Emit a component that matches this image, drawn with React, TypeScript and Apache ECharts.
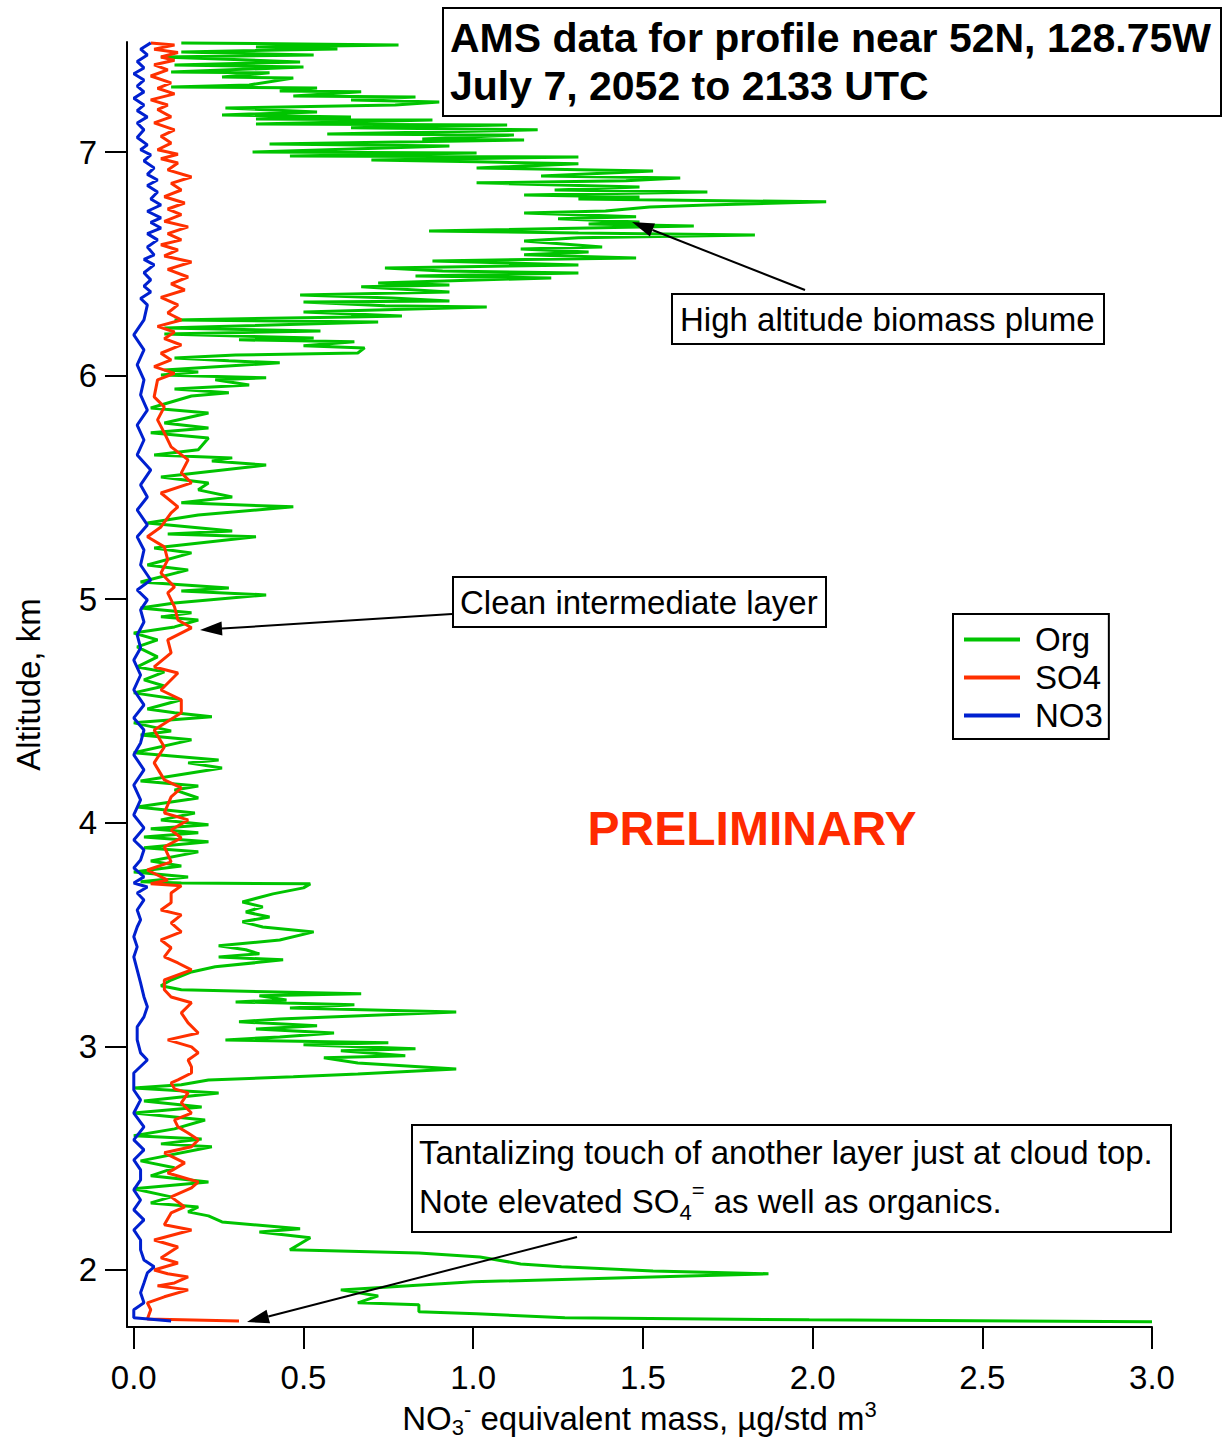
import React, { useEffect, useRef } from "react";
import * as echarts from "echarts";

// [mass (µg/std m3), altitude (km)] in flight order, bottom to top
const ORG_POINTS: [number, number][] = [
  [3.00,1.768],[1.99,1.777],[1.27,1.786],[1.01,1.804],[0.84,1.813],[0.84,1.844],[0.66,1.853],[0.72,1.884],[0.61,1.911],[1.00,1.947],
  [1.66,1.974],[1.87,1.983],[1.53,1.996],[1.26,2.014],[1.14,2.027],[1.02,2.058],[0.84,2.076],[0.46,2.090],[0.52,2.144],[0.37,2.170],
  [0.49,2.184],[0.26,2.215],[0.22,2.242],[0.16,2.260],[0.19,2.282],[0.05,2.300],[0.11,2.327],[0.00,2.363],[0.22,2.394],[0.05,2.421],
  [0.12,2.457],[0.02,2.488],[0.23,2.551],[0.08,2.564],[0.20,2.586],[0.00,2.600],[0.12,2.631],[0.21,2.671],[0.00,2.702],[0.20,2.729],
  [0.03,2.756],[0.25,2.792],[0.00,2.814],[0.14,2.828],[0.22,2.850],[0.47,2.864],[0.66,2.877],[0.95,2.899],[0.66,2.926],[0.56,2.949],
  [0.80,2.958],[0.61,2.980],[0.83,2.989],[0.50,3.007],[0.75,3.016],[0.27,3.029],[0.43,3.042],[0.59,3.060],[0.36,3.078],[0.54,3.092],
  [0.31,3.110],[0.43,3.123],[0.65,3.136],[0.95,3.154],[0.46,3.172],[0.65,3.186],[0.30,3.199],[0.45,3.208],[0.37,3.226],[0.67,3.235],
  [0.14,3.253],[0.08,3.271],[0.11,3.297],[0.17,3.333],[0.24,3.356],[0.44,3.387],[0.25,3.400],[0.37,3.414],[0.33,3.432],[0.25,3.450],
  [0.43,3.476],[0.53,3.512],[0.38,3.534],[0.32,3.557],[0.40,3.579],[0.33,3.601],[0.38,3.624],[0.32,3.646],[0.41,3.682],[0.50,3.709],
  [0.52,3.727],[0.14,3.731],[0.02,3.736],[0.16,3.758],[0.00,3.780],[0.14,3.807],[0.05,3.829],[0.19,3.870],[0.03,3.888],[0.22,3.915],
  [0.03,3.937],[0.19,3.955],[0.05,3.973],[0.22,3.991],[0.08,4.013],[0.18,4.044],[0.01,4.071],[0.19,4.111],[0.12,4.147],[0.19,4.165],
  [0.02,4.187],[0.26,4.245],[0.16,4.268],[0.25,4.281],[0.00,4.313],[0.17,4.371],[0.02,4.393],[0.11,4.411],[0.00,4.447],[0.23,4.474],
  [0.12,4.492],[0.04,4.509],[0.14,4.550],[0.00,4.581],[0.09,4.612],[0.03,4.639],[0.09,4.675],[0.01,4.697],[0.07,4.742],[0.01,4.787],
  [0.07,4.818],[0.00,4.849],[0.12,4.876],[0.19,4.907],[0.08,4.921],[0.17,4.939],[0.02,4.961],[0.12,4.983],[0.39,5.019],[0.14,5.037],
  [0.28,5.050],[0.02,5.077],[0.16,5.131],[0.04,5.153],[0.17,5.207],[0.06,5.229],[0.36,5.279],[0.10,5.292],[0.29,5.305],[0.04,5.341],
  [0.19,5.377],[0.47,5.413],[0.14,5.431],[0.29,5.457],[0.19,5.489],[0.22,5.520],[0.08,5.547],[0.39,5.600],[0.23,5.618],[0.29,5.632],
  [0.06,5.645],[0.19,5.668],[0.22,5.721],[0.05,5.744],[0.22,5.766],[0.09,5.788],[0.22,5.833],[0.05,5.855],[0.17,5.909],[0.28,5.923],
  [0.12,5.940],[0.34,5.958],[0.24,5.981],[0.39,5.990],[0.30,5.994],[0.08,6.003],[0.19,6.016],[0.09,6.025],[0.43,6.057],[0.28,6.066],
  [0.12,6.079],[0.30,6.092],[0.66,6.101],[0.68,6.124],[0.50,6.133],[0.65,6.151],[0.31,6.160],[0.53,6.168],[0.09,6.186],[0.55,6.200],
  [0.09,6.213],[0.72,6.240],[0.12,6.249],[0.64,6.262],[0.79,6.267],[0.50,6.285],[1.04,6.307],[0.74,6.312],[0.50,6.329],[0.93,6.334],
  [0.76,6.347],[0.49,6.361],[0.93,6.374],[0.67,6.397],[0.93,6.405],[0.72,6.414],[1.23,6.437],[0.83,6.446],[1.31,6.459],[0.91,6.468],
  [0.74,6.481],[1.31,6.495],[0.88,6.513],[1.48,6.526],[1.15,6.540],[1.34,6.553],[1.14,6.566],[1.38,6.575],[1.15,6.602],[1.31,6.616],
  [1.83,6.629],[1.31,6.638],[0.87,6.647],[1.65,6.669],[1.34,6.678],[1.49,6.687],[1.25,6.701],[1.48,6.710],[1.15,6.727],[1.39,6.736],
  [1.52,6.754],[1.69,6.763],[2.04,6.777],[1.31,6.790],[1.49,6.799],[1.15,6.808],[1.69,6.821],[1.24,6.830],[1.49,6.844],[1.01,6.862],
  [1.45,6.871],[1.61,6.884],[1.20,6.893],[1.53,6.915],[1.01,6.929],[1.31,6.947],[1.01,6.956],[0.70,6.964],[1.31,6.978],[0.46,6.982],
  [1.01,6.996],[0.35,7.000],[0.93,7.027],[0.40,7.036],[1.15,7.054],[0.85,7.058],[1.12,7.076],[0.57,7.081],[1.19,7.099],[0.64,7.108],
  [1.10,7.121],[0.36,7.125],[0.88,7.143],[0.36,7.148],[0.64,7.157],[0.26,7.166],[0.54,7.179],[0.27,7.197],[0.77,7.210],[0.90,7.224],
  [0.64,7.233],[0.83,7.246],[0.47,7.251],[0.67,7.269],[0.43,7.273],[0.54,7.286],[0.11,7.291],[0.34,7.300],[0.47,7.331],[0.26,7.336],
  [0.40,7.354],[0.11,7.358],[0.50,7.380],[0.12,7.389],[0.49,7.403],[0.08,7.425],[0.53,7.434],[0.14,7.447],[0.60,7.461],[0.36,7.470],
  [0.78,7.479],[0.14,7.488]
];

const SO4_POINTS: [number, number][] = [
  [0.31,1.772],[0.04,1.781],[0.05,1.822],[0.04,1.853],[0.09,1.880],[0.16,1.911],[0.07,1.929],[0.12,1.942],[0.16,1.969],[0.10,1.983],
  [0.06,2.000],[0.13,2.031],[0.08,2.054],[0.13,2.103],[0.06,2.134],[0.17,2.179],[0.09,2.202],[0.11,2.255],[0.15,2.282],[0.11,2.327],
  [0.17,2.367],[0.19,2.394],[0.10,2.434],[0.15,2.479],[0.09,2.524],[0.17,2.551],[0.19,2.582],[0.16,2.613],[0.13,2.640],[0.12,2.671],
  [0.17,2.702],[0.14,2.747],[0.16,2.792],[0.12,2.810],[0.11,2.837],[0.13,2.850],[0.17,2.881],[0.17,2.908],[0.16,2.939],[0.19,2.971],
  [0.17,2.998],[0.10,3.029],[0.19,3.060],[0.16,3.105],[0.14,3.150],[0.17,3.195],[0.11,3.221],[0.09,3.253],[0.09,3.297],[0.17,3.342],
  [0.13,3.373],[0.09,3.400],[0.11,3.441],[0.08,3.476],[0.14,3.512],[0.11,3.552],[0.14,3.588],[0.08,3.610],[0.11,3.642],[0.11,3.686],
  [0.14,3.718],[0.05,3.727],[0.10,3.744],[0.04,3.789],[0.11,3.825],[0.09,3.892],[0.14,3.932],[0.11,3.968],[0.16,4.013],[0.09,4.044],
  [0.11,4.116],[0.14,4.156],[0.09,4.192],[0.06,4.268],[0.09,4.339],[0.06,4.415],[0.14,4.492],[0.14,4.550],[0.08,4.594],[0.13,4.670],
  [0.06,4.697],[0.11,4.760],[0.10,4.818],[0.17,4.872],[0.13,4.907],[0.12,4.966],[0.10,5.028],[0.12,5.055],[0.08,5.117],[0.10,5.176],
  [0.09,5.234],[0.04,5.279],[0.08,5.323],[0.11,5.386],[0.13,5.413],[0.08,5.475],[0.17,5.520],[0.14,5.565],[0.16,5.623],[0.11,5.681],
  [0.09,5.744],[0.07,5.802],[0.09,5.860],[0.06,5.905],[0.07,5.981],[0.12,6.010],[0.06,6.040],[0.11,6.070],[0.08,6.100],[0.14,6.137],
  [0.09,6.165],[0.12,6.195],[0.07,6.220],[0.14,6.249],[0.10,6.280],[0.13,6.316],[0.08,6.350],[0.15,6.383],[0.11,6.410],[0.16,6.441],
  [0.10,6.475],[0.17,6.508],[0.09,6.535],[0.13,6.562],[0.08,6.585],[0.14,6.607],[0.10,6.635],[0.16,6.665],[0.09,6.690],[0.14,6.720],
  [0.10,6.745],[0.15,6.772],[0.09,6.800],[0.14,6.830],[0.11,6.860],[0.17,6.888],[0.10,6.920],[0.13,6.951],[0.08,6.970],[0.13,6.990],
  [0.07,7.010],[0.11,7.040],[0.08,7.070],[0.12,7.099],[0.06,7.130],[0.11,7.157],[0.07,7.190],[0.10,7.210],[0.05,7.233],[0.12,7.260],
  [0.07,7.285],[0.11,7.309],[0.05,7.340],[0.10,7.367],[0.06,7.390],[0.12,7.410],[0.08,7.425],[0.13,7.445],[0.06,7.460],[0.12,7.479],
  [0.05,7.488]
];

const NO3_POINTS: [number, number][] = [
  [0.11,1.772],[0.00,1.786],[0.00,1.822],[0.03,1.853],[0.02,1.898],[0.03,1.942],[0.04,1.987],[0.06,2.014],[0.03,2.045],[0.02,2.090],
  [0.02,2.134],[0.00,2.179],[0.03,2.224],[0.00,2.269],[0.02,2.313],[0.00,2.358],[0.02,2.403],[0.02,2.448],[0.00,2.492],[0.03,2.537],
  [0.00,2.582],[0.03,2.640],[0.00,2.702],[0.02,2.761],[0.00,2.805],[0.00,2.837],[0.00,2.881],[0.04,2.939],[0.02,2.971],[0.01,3.029],
  [0.01,3.087],[0.03,3.132],[0.04,3.177],[0.03,3.221],[0.02,3.284],[0.01,3.342],[0.00,3.400],[0.01,3.445],[0.00,3.490],[0.01,3.534],
  [0.02,3.566],[0.01,3.610],[0.03,3.655],[0.01,3.686],[0.04,3.713],[0.00,3.731],[0.03,3.758],[0.00,3.798],[0.02,3.834],[0.03,3.879],
  [0.00,3.923],[0.03,3.977],[0.00,4.035],[0.02,4.102],[0.00,4.169],[0.03,4.237],[0.00,4.304],[0.02,4.357],[0.03,4.415],[0.00,4.469],
  [0.03,4.527],[0.00,4.594],[0.02,4.661],[0.00,4.728],[0.02,4.782],[0.01,4.840],[0.03,4.898],[0.02,4.952],[0.04,4.997],[0.01,5.041],
  [0.05,5.086],[0.02,5.153],[0.03,5.220],[0.01,5.279],[0.04,5.332],[0.01,5.399],[0.04,5.457],[0.02,5.511],[0.05,5.578],[0.01,5.645],
  [0.03,5.712],[0.01,5.779],[0.04,5.846],[0.02,5.914],[0.03,5.981],[0.01,6.048],[0.03,6.115],[0.00,6.182],[0.03,6.249],[0.04,6.316],
  [0.02,6.345],[0.05,6.374],[0.03,6.400],[0.05,6.428],[0.03,6.460],[0.06,6.495],[0.03,6.520],[0.06,6.540],[0.04,6.575],[0.07,6.607],
  [0.04,6.635],[0.08,6.660],[0.05,6.685],[0.08,6.705],[0.04,6.735],[0.08,6.763],[0.05,6.790],[0.07,6.821],[0.04,6.850],[0.07,6.875],
  [0.04,6.900],[0.06,6.929],[0.03,6.960],[0.05,6.987],[0.02,7.010],[0.04,7.032],[0.01,7.065],[0.03,7.099],[0.01,7.130],[0.04,7.157],
  [0.01,7.185],[0.03,7.210],[0.00,7.240],[0.03,7.269],[0.01,7.295],[0.03,7.322],[0.00,7.350],[0.03,7.376],[0.01,7.405],[0.04,7.434],
  [0.02,7.460],[0.05,7.488]
];

const SERIES_NAMES = ["Org", "SO4", "NO3"];
const SERIES_COLORS = ["#00c400", "#ff3000", "#0020d0"];
const X_TICKS = [0, 0.5, 1.0, 1.5, 2.0, 2.5, 3.0];
const Y_TICKS = [2, 3, 4, 5, 6, 7];

const FONT = "'Liberation Sans', Arial, sans-serif";

function arrow(x1: number, y1: number, x2: number, y2: number) {
  const dx = x2 - x1;
  const dy = y2 - y1;
  const L = Math.hypot(dx, dy);
  const ux = dx / L;
  const uy = dy / L;
  const hl = 22;
  const hw = 7;
  const bx = x2 - ux * hl;
  const by = y2 - uy * hl;
  return [
    { type: "line", z: 100, shape: { x1, y1, x2: bx, y2: by }, style: { stroke: "#000", lineWidth: 2 } },
    {
      type: "polygon",
      z: 100,
      shape: { points: [[x2, y2], [bx - uy * hw, by + ux * hw], [bx + uy * hw, by - ux * hw]] },
      style: { fill: "#000" },
    },
  ];
}

function boxRect(x: number, y: number, w: number, h: number) {
  return { type: "rect", z: 50, shape: { x, y, width: w, height: h }, style: { fill: "#fff", stroke: "#000", lineWidth: 2 } };
}

function label(text: string, x: number, y: number, extra: any = {}) {
  return {
    type: "text",
    z: 60,
    x,
    y,
    style: { text, fontSize: 33, fontFamily: FONT, fill: "#000", textAlign: "left", textVerticalAlign: "middle", ...extra },
  };
}

export default function App() {
  const ref = useRef<HTMLDivElement>(null);
  useEffect(() => {
    document.body.style.margin = "0";
    const chart = echarts.init(ref.current!, null, { renderer: "svg" });
    const allPoints = [ORG_POINTS, SO4_POINTS, NO3_POINTS];
    const option: any = {
      animation: false,
      backgroundColor: "#fff",
      grid: { left: 127, right: 72, top: 42, bottom: 114, containLabel: false, outerBoundsMode: "none" },
      xAxis: {
        type: "value",
        min: -0.02,
        max: 3.0,
        axisLine: { show: true, onZero: false, lineStyle: { color: "#000", width: 2 } },
        axisTick: { show: true, length: 22, lineStyle: { color: "#000", width: 2 }, customValues: X_TICKS },
        axisLabel: {
          show: true,
          margin: 34,
          fontSize: 33,
          fontFamily: FONT,
          color: "#000",
          customValues: X_TICKS,
          formatter: (v: number) => v.toFixed(1),
        },
        splitLine: { show: false },
        name: "NO{sub|3}{sup|-} equivalent mass, µg/std m{sup|3}",
        nameLocation: "middle",
        nameGap: 67,
        nameTextStyle: {
          fontSize: 33,
          fontFamily: FONT,
          color: "#000",
          lineHeight: 40,
          rich: {
            sub: { fontSize: 22, fontFamily: FONT, color: "#000", lineHeight: 22, verticalAlign: "bottom" },
            sup: { fontSize: 22, fontFamily: FONT, color: "#000", lineHeight: 22, verticalAlign: "top" },
          },
        },
      },
      yAxis: {
        type: "value",
        min: 1.745,
        max: 7.492,
        axisLine: { show: true, onZero: false, lineStyle: { color: "#000", width: 2 } },
        axisTick: { show: true, length: 22, lineStyle: { color: "#000", width: 2 }, customValues: Y_TICKS },
        axisLabel: {
          show: true,
          margin: 30,
          fontSize: 33,
          fontFamily: FONT,
          color: "#000",
          customValues: Y_TICKS,
          formatter: (v: number) => String(Math.round(v)),
        },
        splitLine: { show: false },
        name: "Altitude, km",
        nameLocation: "middle",
        nameGap: 82,
        nameTextStyle: { fontSize: 33, fontFamily: FONT, color: "#000" },
      },
      legend: {
        show: true,
        orient: "vertical",
        left: 953,
        top: 614,
        icon: "rect",
        itemWidth: 56,
        itemHeight: 4,
        itemGap: 5,
        padding: [9, 6, 7, 11],
        borderColor: "#000",
        borderWidth: 2,
        backgroundColor: "#fff",
        selectedMode: false,
        data: SERIES_NAMES,
        textStyle: { fontSize: 33, fontFamily: FONT, color: "#000", padding: [0, 0, 0, 10] },
      },
      series: SERIES_NAMES.map((name, i) => ({
        name,
        type: "line",
        data: allPoints[i],
        showSymbol: false,
        symbol: "none",
        color: SERIES_COLORS[i],
        lineStyle: { color: SERIES_COLORS[i], width: 3 },
        z: 2 + i,
        clip: true,
      })),
      graphic: [
        boxRect(443, 8, 778, 108),
        label("AMS data for profile near 52N, 128.75W", 450, 38, { fontSize: 41, fontWeight: "bold" }),
        label("July 7, 2052 to 2133 UTC", 450, 86, { fontSize: 41, fontWeight: "bold" }),
        boxRect(672, 294, 432, 50),
        label("High altitude biomass plume", 680, 319),
        ...arrow(805, 290, 632, 222),
        boxRect(453, 577, 373, 50),
        label("Clean intermediate layer", 460, 602),
        ...arrow(452, 614, 200, 630),
        {
          type: "text",
          z: 60,
          x: 752,
          y: 828,
          style: {
            text: "PRELIMINARY",
            fontSize: 48,
            fontWeight: "bold",
            fontFamily: FONT,
            fill: "#ff2a00",
            textAlign: "center",
            textVerticalAlign: "middle",
          },
        },
        boxRect(412, 1125, 759, 107),
        label("Tantalizing touch of another layer just at cloud top.", 419, 1152),
        label("Note elevated SO{sub|4}{sup|=} as well as organics.", 419, 1201, {
          lineHeight: 44,
          rich: {
            sub: { fontSize: 22, fontFamily: FONT, fill: "#000", lineHeight: 22, verticalAlign: "bottom" },
            sup: { fontSize: 22, fontFamily: FONT, fill: "#000", lineHeight: 22, verticalAlign: "top" },
          },
        }),
        ...arrow(577, 1237, 247, 1322),
      ],
    };
    chart.setOption(option);
    return () => chart.dispose();
  }, []);
  return <div ref={ref} style={{ width: 1224, height: 1441 }} />;
}
